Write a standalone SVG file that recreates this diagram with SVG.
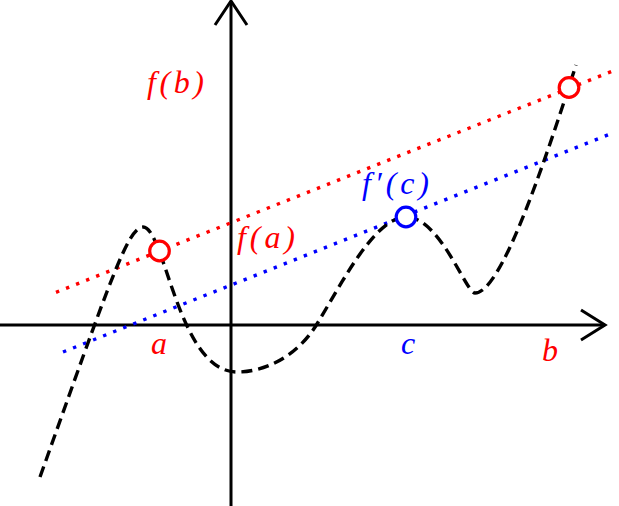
<svg xmlns="http://www.w3.org/2000/svg" width="619" height="506" viewBox="0 0 619 506">
<style>
.axis{fill:none;stroke:#000;stroke-width:3}
.curve{fill:none;stroke:#000;stroke-width:3.4;stroke-dasharray:11 6}
.dotr{fill:none;stroke:#ff0000;stroke-width:3.4;stroke-dasharray:3.4 7.4}
.dotb{fill:none;stroke:#0000ff;stroke-width:3.4;stroke-dasharray:3.4 7.4}
.pt{fill:#fff;stroke-width:3.2}
.lbl{font-family:"Liberation Serif","Times New Roman",serif;font-style:italic;font-size:32px}
.red{fill:#ff0000}
.blue{fill:#0000ff}
</style>
<rect width="619" height="506" fill="#fff"/>
<g id="axes">
<line class="axis" x1="0" y1="325" x2="605" y2="325"/>
<polyline class="axis" points="581,310 605,325 581,340"/>
<line class="axis" x1="231" y1="506" x2="231" y2="1"/>
<polyline class="axis" points="215,25 231,1 247,25"/>
</g>
<g id="connectors">
<line id="secant" class="dotr" x1="56" y1="292.3" x2="614" y2="70.5"/>
<line id="tangent" class="dotb" x1="63" y1="352" x2="614" y2="132.5"/>
<path id="graph" class="curve" d="M40,477 C110,281 128,227 143,227 C165,227 178,372 237,372 C265,372 297,356.6 317,324 C342,283 375,217 406,217 C440,217 466,293 475,293 C500,293 540,177 576,65"/>
</g>
<g id="point-a"><circle class="pt" cx="159.5" cy="251" r="9.8" stroke="#ff0000"/></g>
<g id="point-b"><circle class="pt" cx="569" cy="87.5" r="9.8" stroke="#ff0000"/></g>
<g id="point-c"><circle class="pt" cx="406" cy="217" r="9.8" stroke="#0000ff"/></g>
<g id="labels">
<text class="lbl red" x="147" y="93" textLength="57" lengthAdjust="spacing">f(b)</text>
<text class="lbl red" x="237" y="248" textLength="58" lengthAdjust="spacing">f(a)</text>
<text class="lbl blue" x="362" y="194" textLength="67" lengthAdjust="spacing">f′(c)</text>
<text class="lbl red" x="159" y="354" text-anchor="middle">a</text>
<text class="lbl blue" x="408" y="354" text-anchor="middle">c</text>
<text class="lbl red" x="550" y="361" text-anchor="middle">b</text>
</g>
</svg>
